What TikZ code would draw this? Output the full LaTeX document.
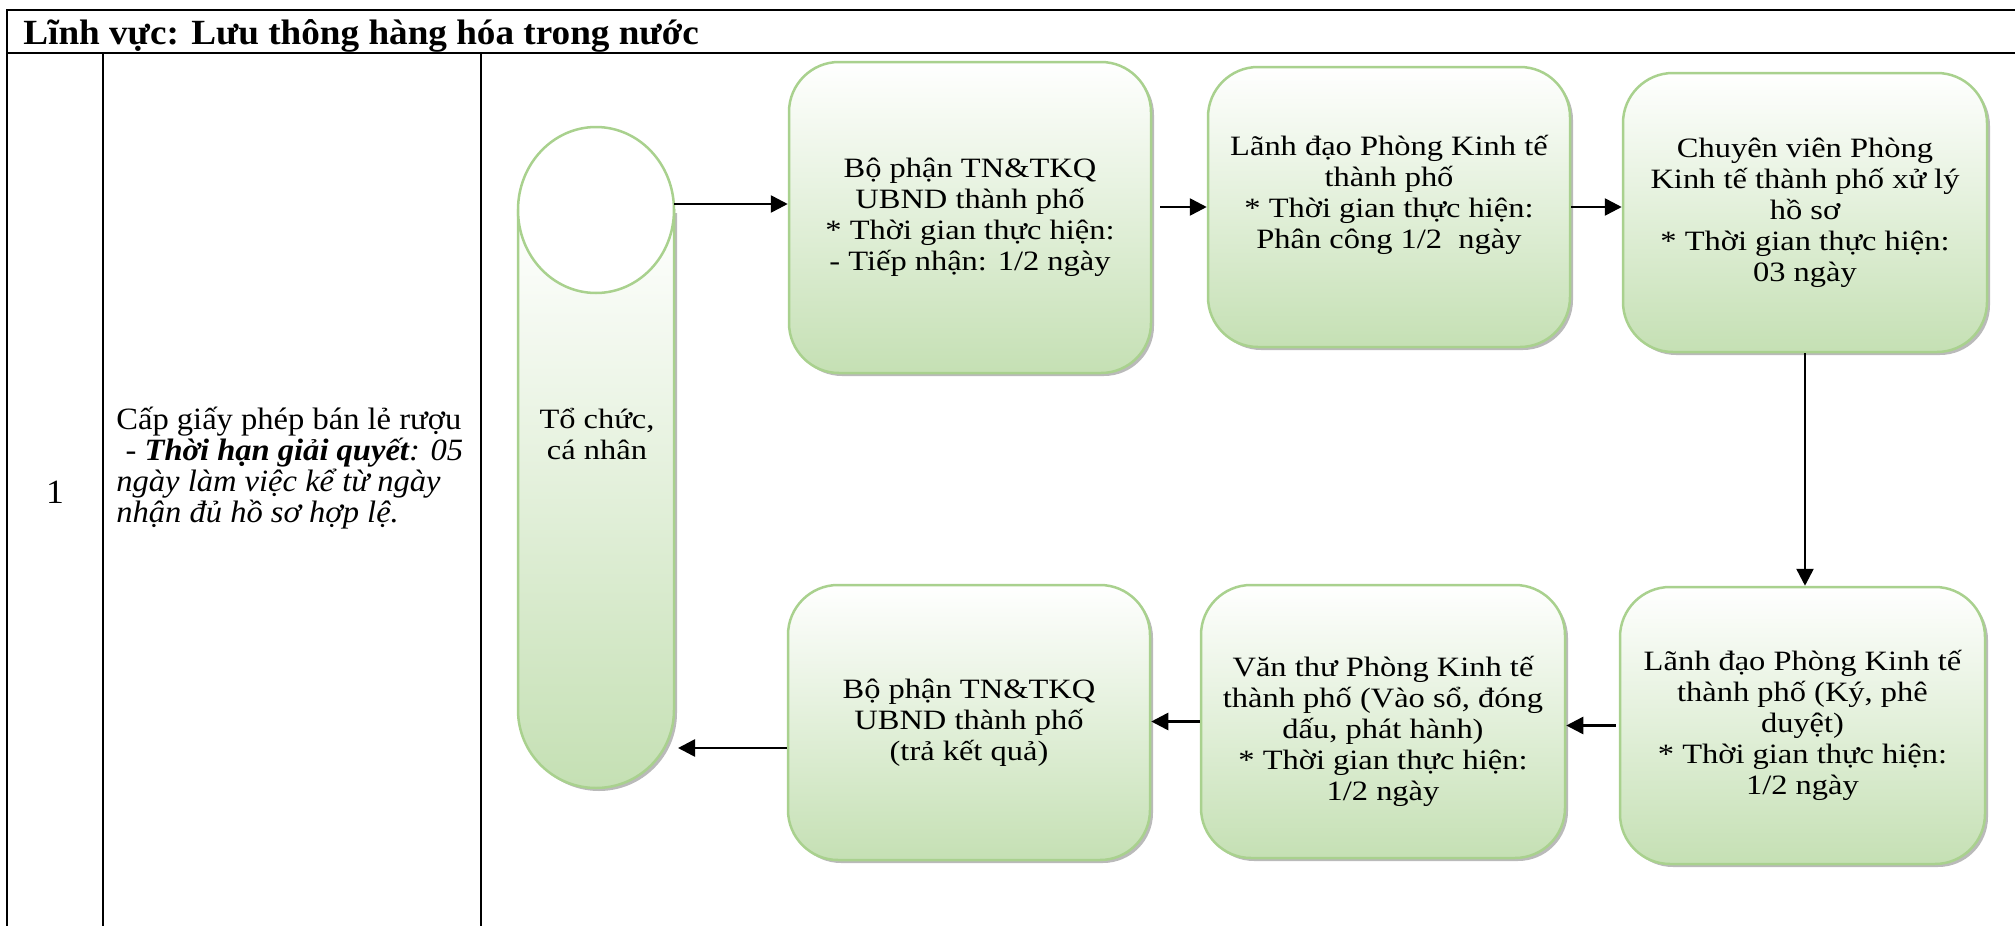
\documentclass[tikz,border=0pt]{standalone}
\usepackage{fontspec}
\setmainfont{Liberation Serif}[FakeStretch=1.05]
\newfontfamily\boxfamily{Liberation Serif}[FakeStretch=1.16]
\usetikzlibrary{positioning, shadows, arrows.meta}
\definecolor{boxborder}{RGB}{169, 209, 142}
\definecolor{boxbottom}{RGB}{197, 224, 180}
\newcommand{\boxfont}{\boxfamily\fontsize{14pt}{15.5pt}\selectfont}
\newcommand{\cellfont}{\fontsize{15.5pt}{14.5pt}\selectfont}
\newcommand{\headfont}{\fontsize{17.7pt}{20pt}\selectfont\bfseries}

\begin{document}
\begin{tikzpicture}[
    x=0.5pt, y=-0.5pt,
    rule/.style={line width=1.4pt},
    stepbox/.style={draw=boxborder, line width=1.25pt, rounded corners=25pt, top color=white, bottom color=boxbottom, minimum width=181pt, align=center, font=\boxfont, drop shadow={shadow xshift=1.5pt, shadow yshift=-1.5pt, fill=black!45, opacity=0.6}},
    celltext/.style={inner sep=0pt, align=left, font=\cellfont},
    flow/.style={-{Triangle[length=8.5pt, width=8.5pt]}, line width=1.3pt}
]
\useasboundingbox (0,0) rectangle (2015,926);

% Table rules
\draw[rule] (7,926) -- (7,10) -- (2015,10);
\draw[rule] (7,53) -- (2015,53);
\draw[rule] (103,53) -- (103,926);
\draw[rule] (481,53) -- (481,926);

% Table texts
\node[anchor=base west, inner sep=0pt, font=\headfont] (field) at (23,45) {Lĩnh vực: Lưu thông hàng hóa trong nước};
\node[celltext, font=\fontsize{17pt}{18pt}\selectfont] (number) at (55,492) {1};
\node[celltext, anchor=west] (procedure) at (116,468) {Cấp giấy phép bán lẻ rượu\\
\hspace*{0.3em}\textit{- \textbf{Thời hạn giải quyết}: 05}\\
\textit{ngày làm việc kể từ ngày}\\
\textit{nhận đủ hồ sơ hợp lệ.}};

% Applicant (can shape)
\path[draw=boxborder, line width=1.25pt, top color=white, bottom color=boxbottom, drop shadow={shadow xshift=1.5pt, shadow yshift=-1.5pt, fill=black!45, opacity=0.6}]
    (518,210) -- (518,710) arc[start angle=180, end angle=0, x radius=78, y radius=78] -- (674,210) -- cycle;
\draw[boxborder, line width=1.25pt, fill=white] (596,210) ellipse[x radius=78, y radius=83];
\node[align=center, font=\boxfont] (person) at (597,434) {Tổ chức,\\cá nhân};
\coordinate (personTop) at (674,204);
\coordinate (personBottom) at (678,748);

% Steps, top row
\node[stepbox, minimum height=155.5pt] (receive) at (970,217.5) {Bộ phận TN\&TKQ\\UBND thành phố\\* Thời gian thực hiện:\\- Tiếp nhận: 1/2 ngày};
\node[stepbox, minimum height=140pt] (leader) at (1389,207) {Lãnh đạo Phòng Kinh tế\\thành phố\\* Thời gian thực hiện:\\Phân công 1/2\ \ ngày\\\mbox{}};
\node[stepbox, minimum height=139.5pt, minimum width=182pt] (expert) at (1805,212.5) {Chuyên viên Phòng\\Kinh tế thành phố xử lý\\hồ sơ\\* Thời gian thực hiện:\\03 ngày};

% Steps, bottom row
\node[stepbox, minimum height=138.5pt, minimum width=182.5pt] (approve) at (1802.5,725.5) {Lãnh đạo Phòng Kinh tế\\thành phố (Ký, phê\\duyệt)\\* Thời gian thực hiện:\\1/2 ngày};
\node[stepbox, minimum height=136.5pt, minimum width=182pt] (clerk) at (1383,721.5) {\rule{0pt}{20pt}Văn thư Phòng Kinh tế\\thành phố (Vào sổ, đóng\\dấu, phát hành)\\* Thời gian thực hiện:\\1/2 ngày};
\node[stepbox, minimum height=137.5pt] (result) at (969,722.5) {Bộ phận TN\&TKQ\\UBND thành phố\\(trả kết quả)};

% Flow
\draw[flow] (personTop) -- (personTop -| receive.west);
\draw[flow, shorten <=4pt] (receive.east |- leader.west) -- (leader.west);
\draw[flow] (leader.east) -- (leader.east -| expert.west);
\draw[flow] (expert.south) -- (expert.south |- approve.north);
\draw[flow, shorten <=1.5pt] (approve.west) -- (approve.west -| clerk.east);
\draw[flow] (clerk.west) -- (clerk.west -| result.east);
\draw[flow] (result.west |- personBottom) -- (personBottom);

\end{tikzpicture}
\end{document}
